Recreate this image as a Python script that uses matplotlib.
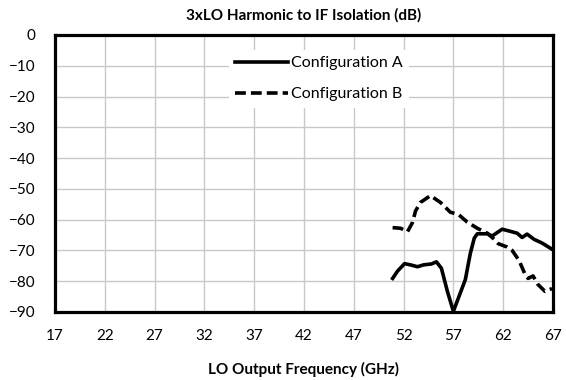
import matplotlib.pyplot as plt

plt.rcParams['font.family'] = ['Lato', 'DejaVu Sans']

# LO output frequency (GHz) and isolation (dB) for each configuration
freq_a = [50.9, 51.4, 52.1, 52.7, 53.4, 54.0, 54.8, 55.3, 55.8, 56.4, 57.0, 57.5,
          58.2, 58.7, 59.1, 59.4, 60.4, 60.9, 61.4, 61.9, 62.6, 63.4, 63.9, 64.4,
          65.1, 65.9, 66.9]
iso_a = [-79.1, -76.7, -74.3, -74.7, -75.3, -74.7, -74.4, -73.7, -75.8, -83.3, -89.8, -85.5,
         -79.5, -71.0, -66.0, -64.6, -64.6, -65.3, -64.2, -63.1, -63.7, -64.4, -65.8, -64.7,
         -66.4, -67.6, -69.6]

freq_b = [50.9, 51.7, 52.4, 52.9, 53.2, 53.7, 54.7, 55.7, 56.7, 57.5, 58.4, 59.4,
          60.4, 61.0, 61.5, 62.4, 62.9, 63.6, 64.2, 64.5, 65.0, 65.5, 66.2, 66.9]
iso_b = [-62.6, -62.8, -63.9, -60.9, -57.2, -54.4, -52.2, -54.4, -57.6, -58.3, -60.8, -62.8,
         -64.4, -66.1, -67.8, -68.9, -70.0, -73.3, -77.8, -79.1, -78.3, -81.1, -83.3, -82.4]

x_ticks = [17, 22, 27, 32, 37, 42, 47, 52, 57, 62, 67]
y_ticks = [0, -10, -20, -30, -40, -50, -60, -70, -80, -90]

fig = plt.figure(figsize=(5.66, 3.8), dpi=100)
ax = fig.add_axes([0.097, 0.179, 0.880, 0.729])

ax.plot(freq_a, iso_a, color='black', linewidth=2.6, label='Configuration A')
ax.plot(freq_b, iso_b, color='black', linewidth=2.6, linestyle=(0, (3.0, 1.4)),
        label='Configuration B')

ax.set_xlim(17, 67)
ax.set_ylim(-90, 0)
ax.set_xticks(x_ticks)
ax.set_yticks(y_ticks)
ax.tick_params(axis='x', length=0, labelsize=11, pad=12)
ax.tick_params(axis='y', length=0, labelsize=11, pad=14)
ax.grid(color='#c8c8c8', linewidth=1)
ax.set_axisbelow(True)
for s in ax.spines.values():
    s.set_linewidth(2.3)
    s.set_color('black')

ax.set_title('3xLO Harmonic to IF Isolation (dB)', fontsize=11, fontweight='bold', pad=11)
ax.set_xlabel('LO Output Frequency (GHz)', fontsize=11, fontweight='bold', labelpad=14)

leg = ax.legend(loc='upper center', bbox_to_anchor=(0.53, 0.975), frameon=True,
                fancybox=False, edgecolor='none', facecolor='white', framealpha=1,
                fontsize=11.5, handlelength=3.3, handletextpad=0.2, labelspacing=1.05,
                borderpad=0.4)

fig.savefig('out.png', dpi=100)
